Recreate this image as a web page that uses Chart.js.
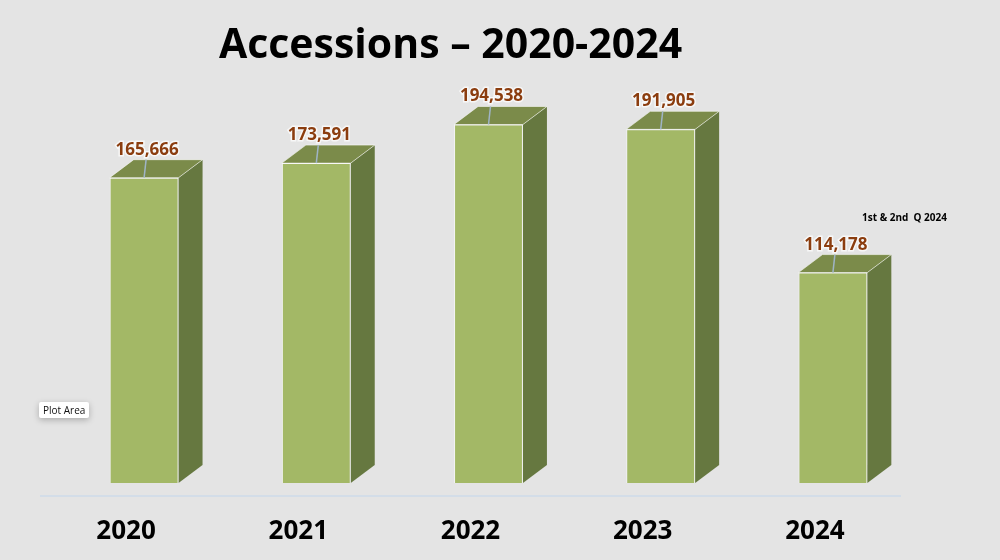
<!DOCTYPE html>
<html>
<head>
<meta charset="utf-8">
<script src="https://cdn.jsdelivr.net/npm/chart.js@4/dist/chart.umd.min.js"></script>
<style>
  html, body { margin: 0; padding: 0; background: #e4e4e4; }
  #wrap { position: relative; width: 1000px; height: 560px; font-family: 'Open Sans', sans-serif; }
  #title { position: absolute; left: 0; width: 901px; top: 13px; text-align: center; font-size: 41px; font-weight: 700; color: #000; line-height: 58px; }
  #note { position: absolute; left: 862px; top: 210px; font-size: 10px; font-weight: 700; color: #000; white-space: pre; }
  #tip { position: absolute; left: 39px; top: 402px; padding: 1px 4px; background: #fff; font-size: 10px; color: #111; box-shadow: 0 2px 6px rgba(0,0,0,0.25); border-radius: 2px; }
  canvas { position: absolute; left: 0; top: 0; }
</style>
</head>
<body>
<div id="wrap">
  <canvas id="chart" width="1000" height="560"></canvas>
  <div id="title">Accessions – 2020-2024</div>
  <div id="note">1st &amp; 2nd  Q 2024</div>
  <div id="tip">Plot Area</div>
</div>
<script>
(function () {
  const years = ['2020', '2021', '2022', '2023', '2024'];
  const accessions = [165666, 173591, 194538, 191905, 114178];
  const yMax = 210000;

  const SHIFT = 18;   // 3d bars sit right of the category centre
  const DX = 24, DY = 18;

  function fmt(n) { return n.toLocaleString('en-US'); }

  const bars3d = {
    id: 'bars3d',
    beforeDatasetsDraw(chart) {
      const ctx = chart.ctx;
      ctx.save();
      ctx.translate(SHIFT, 0);
      chart.getDatasetMeta(0).data.forEach(el => {
        const l = el.x - el.width / 2, r = el.x + el.width / 2;
        const t = el.y, b = el.base;
        // side face
        ctx.beginPath();
        ctx.moveTo(r, t); ctx.lineTo(r + DX, t - DY); ctx.lineTo(r + DX, b - DY); ctx.lineTo(r, b);
        ctx.closePath();
        ctx.fillStyle = '#667840';
        ctx.fill();
        // top face
        ctx.beginPath();
        ctx.moveTo(l, t); ctx.lineTo(l + DX, t - DY); ctx.lineTo(r + DX, t - DY); ctx.lineTo(r, t);
        ctx.closePath();
        ctx.fillStyle = '#7b8b4a';
        ctx.fill();
        ctx.strokeStyle = 'rgba(255,255,255,0.55)';
        ctx.lineWidth = 1;
        ctx.stroke();
      });
    },
    afterDatasetsDraw(chart) {
      const ctx = chart.ctx;
      const data = chart.data.datasets[0].data;
      chart.getDatasetMeta(0).data.forEach((el, i) => {
        const backTop = el.y - DY;
        // leader line
        ctx.beginPath();
        ctx.moveTo(el.x + 2, backTop);
        ctx.lineTo(el.x, el.y);
        ctx.strokeStyle = '#9fb4c6';
        ctx.lineWidth = 1.5;
        ctx.stroke();
        // value label
        ctx.font = '700 17px "Open Sans"';
        ctx.textAlign = 'center';
        ctx.textBaseline = 'alphabetic';
        ctx.lineWidth = 3;
        ctx.strokeStyle = 'rgba(255,255,255,0.7)';
        ctx.strokeText(fmt(data[i]), el.x + 3, backTop - 5);
        ctx.fillStyle = '#8b3d0f';
        ctx.fillText(fmt(data[i]), el.x + 3, backTop - 5);
      });
      ctx.restore();

      // floor line and category labels
      const x = chart.scales.x, area = chart.chartArea;
      ctx.save();
      ctx.beginPath();
      ctx.moveTo(area.left, area.bottom + 13);
      ctx.lineTo(area.right, area.bottom + 13);
      ctx.strokeStyle = '#d3dde8';
      ctx.lineWidth = 2;
      ctx.stroke();
      ctx.font = '700 26px "Open Sans"';
      ctx.fillStyle = '#000';
      ctx.textAlign = 'center';
      ctx.textBaseline = 'middle';
      chart.data.labels.forEach((lab, i) => {
        ctx.fillText(lab, x.getPixelForValue(i), 532);
      });
      ctx.restore();
    }
  };

  new Chart(document.getElementById('chart'), {
    type: 'bar',
    data: {
      labels: years,
      datasets: [{
        data: accessions,
        backgroundColor: '#a3b866',
        borderColor: 'rgba(255,255,255,0.6)',
        borderWidth: 1,
        categoryPercentage: 1,
        barPercentage: 0.4
      }]
    },
    options: {
      responsive: false,
      animation: false,
      layout: { padding: { left: 40, right: 99, top: 96, bottom: 77 } },
      scales: {
        x: { display: false },
        y: { display: false, min: 0, max: yMax }
      },
      plugins: { legend: { display: false }, tooltip: { enabled: false } }
    },
    plugins: [bars3d]
  });
})();
</script>
</body>
</html>
